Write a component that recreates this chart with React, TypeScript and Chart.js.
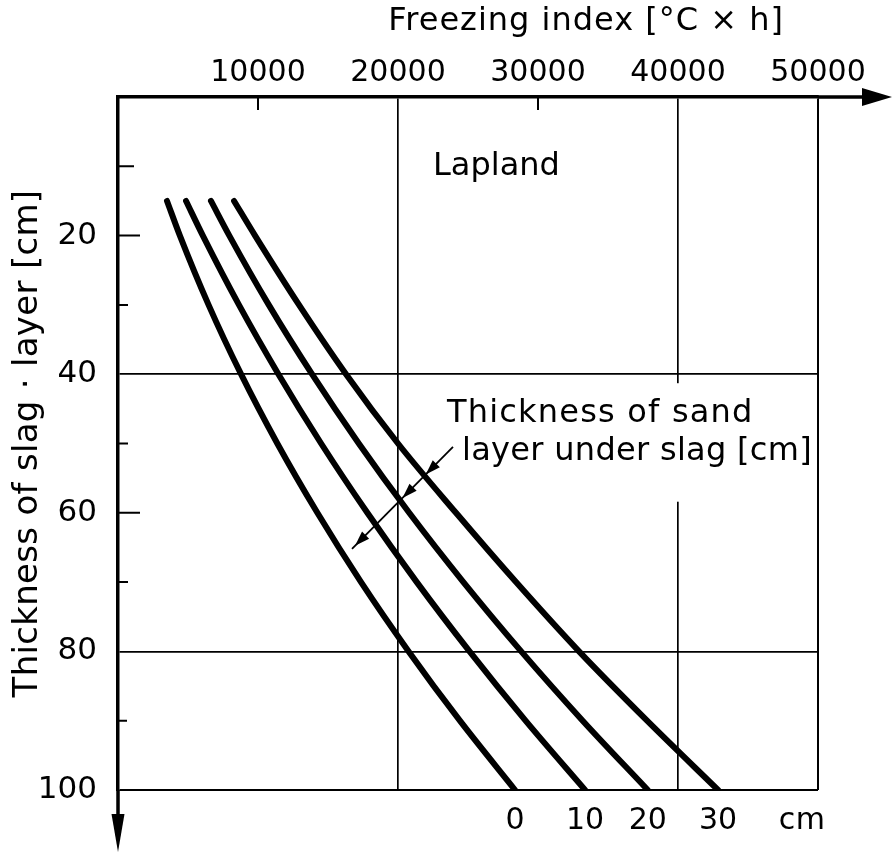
import React, { useEffect, useRef } from 'react';
import { Chart, registerables } from 'chart.js';

Chart.register(...registerables);

// ---------- data ----------
// thickness of slag layer [cm] (vertical axis, downwards)
const SLAG_THICKNESS = [15, 20, 30, 40, 50, 60, 70, 80, 90, 100];
// freezing index [°C×h] for each thickness of sand layer under slag
const FI_SAND_0 = [3500, 4420, 6470, 8790, 11380, 14240, 17360, 20760, 24420, 28360];
const FI_SAND_10 = [4860, 6060, 8640, 11460, 14510, 17810, 21340, 25110, 29110, 33360];
const FI_SAND_20 = [6640, 7950, 10770, 13860, 17200, 20800, 24670, 28800, 33190, 37840];
const FI_SAND_30 = [8290, 9790, 12930, 16290, 20000, 24140, 28430, 32930, 37790, 42860];
const SAND_LABELS = ['0', '10', '20', '30'];
const SAND_SERIES = [FI_SAND_0, FI_SAND_10, FI_SAND_20, FI_SAND_30];

const X_TICK_LABELS = [10000, 20000, 30000, 40000, 50000];
const X_GRID = [20000, 40000, 50000];
const X_INNER_TICKS = [10000, 30000];
const Y_TICK_LABELS = [20, 40, 60, 80, 100];
const Y_GRID = [40, 80, 100];
const Y_INNER_TICKS: Record<number, number> = { 10: 16, 20: 22, 30: 10, 50: 10, 60: 22, 70: 10, 90: 9 };

const X_TITLE = 'Freezing index [°C × h]';
const Y_TITLE = 'Thickness of slag · layer [cm]';
const REGION_LABEL = 'Lapland';
const SAND_NOTE = ['Thickness of sand', 'layer under slag [cm]'];
const UNIT_LABEL = 'cm';

const FONT = '"DejaVu Sans", "Noto Sans", sans-serif';

export default function App() {
  const ref = useRef<HTMLCanvasElement>(null);

  useEffect(() => {
    const canvas = ref.current;
    if (!canvas) return;

    const drawText = (
      ctx: CanvasRenderingContext2D,
      str: string,
      x: number,
      y: number,
      size: number,
      spacing: number,
      align: CanvasTextAlign = 'left',
      baseline: CanvasTextBaseline = 'alphabetic',
      rot = 0
    ) => {
      ctx.save();
      ctx.translate(x, y);
      if (rot) ctx.rotate(rot);
      ctx.font = `${size}px ${FONT}`;
      (ctx as any).letterSpacing = `${spacing}px`;
      ctx.textAlign = align;
      ctx.textBaseline = baseline;
      ctx.fillStyle = '#000';
      ctx.fillText(str, 0, 0);
      ctx.restore();
    };

    const arrowHead = (
      ctx: CanvasRenderingContext2D,
      tx: number,
      ty: number,
      ang: number,
      len: number,
      half: number
    ) => {
      const c = Math.cos(ang);
      const s = Math.sin(ang);
      ctx.beginPath();
      ctx.moveTo(tx, ty);
      ctx.lineTo(tx - len * c + half * s, ty - len * s - half * c);
      ctx.lineTo(tx - len * c - half * s, ty - len * s + half * c);
      ctx.closePath();
      ctx.fill();
    };

    const figurePlugin = {
      id: 'figure',
      beforeDatasetsDraw(chart: any) {
        const { ctx, chartArea: a } = chart;
        const x = chart.scales.x;
        const y = chart.scales.y;
        ctx.save();
        // interruption of the 40000 grid line behind the note text
        const gx = x.getPixelForValue(40000);
        const g1 = y.getPixelForValue(41.3);
        const g2 = y.getPixelForValue(58.4);
        ctx.fillStyle = '#fff';
        ctx.fillRect(gx - 3, g1, 6, g2 - g1);
        // inner tick marks
        ctx.strokeStyle = '#000';
        ctx.lineWidth = 2;
        ctx.beginPath();
        for (const v of X_INNER_TICKS) {
          const px = x.getPixelForValue(v);
          ctx.moveTo(px, a.top);
          ctx.lineTo(px, a.top + 13);
        }
        for (const k of Object.keys(Y_INNER_TICKS)) {
          const v = Number(k);
          const py = y.getPixelForValue(v);
          ctx.moveTo(a.left, py);
          ctx.lineTo(a.left + Y_INNER_TICKS[v], py);
        }
        ctx.stroke();
        ctx.restore();
      },
      afterDraw(chart: any) {
        const { ctx, chartArea: a } = chart;
        const x = chart.scales.x;
        const y = chart.scales.y;
        ctx.save();
        ctx.strokeStyle = '#000';
        ctx.fillStyle = '#000';
        // axis extensions with arrows
        ctx.lineWidth = 3.5;
        ctx.beginPath();
        ctx.moveTo(a.right, a.top);
        ctx.lineTo(a.right + 60, a.top);
        ctx.moveTo(a.left, a.bottom);
        ctx.lineTo(a.left, a.bottom + 40);
        ctx.stroke();
        arrowHead(ctx, a.right + 74, a.top, 0, 30, 9);
        arrowHead(ctx, a.left, a.bottom + 62, Math.PI / 2, 38, 6.5);

        // axis titles
        drawText(ctx, X_TITLE, x.getPixelForValue(19300), 30, 32, 1.0, 'left', 'alphabetic');
        drawText(ctx, Y_TITLE, 28, (a.top + a.bottom) / 2, 34, 0.3, 'center', 'middle', -Math.PI / 2);

        // annotations
        drawText(ctx, REGION_LABEL, x.getPixelForValue(22500), y.getPixelForValue(11.3), 32, 0, 'left');
        drawText(ctx, SAND_NOTE[0], x.getPixelForValue(23500), y.getPixelForValue(46.9), 32, 1.2, 'left');
        drawText(ctx, SAND_NOTE[1], x.getPixelForValue(24570), y.getPixelForValue(52.4), 32, 0.3, 'left');

        // pointer line with arrow heads
        const p0x = x.getPixelForValue(23929);
        const p0y = y.getPixelForValue(50.5);
        const p1x = x.getPixelForValue(16714);
        const p1y = y.getPixelForValue(65.2);
        ctx.lineWidth = 1.8;
        ctx.beginPath();
        ctx.moveTo(p0x, p0y);
        ctx.lineTo(p1x, p1y);
        ctx.stroke();
        const ang = Math.atan2(p1y - p0y, p1x - p0x);
        for (const t of [0.27, 0.5, 0.97]) {
          arrowHead(ctx, p0x + (p1x - p0x) * t, p0y + (p1y - p0y) * t, ang, 15, 5);
        }

        // curve labels under the chart
        SAND_SERIES.forEach((s, i) => {
          drawText(ctx, SAND_LABELS[i], x.getPixelForValue(s[s.length - 1]), y.getPixelForValue(105.6), 30, 0, 'center');
        });
        drawText(ctx, UNIT_LABEL, x.getPixelForValue(48860), y.getPixelForValue(105.6), 30, 0.5, 'center');
        ctx.restore();
      },
    };

    const datasets = SAND_SERIES.map((s, i) => ({
      label: SAND_LABELS[i] + ' cm',
      data: s.map((v, j) => ({ x: v, y: SLAG_THICKNESS[j] })),
      borderColor: '#000',
      borderWidth: 6,
      borderCapStyle: 'round' as const,
      borderJoinStyle: 'round' as const,
      pointRadius: 0,
      cubicInterpolationMode: 'monotone' as const,
      fill: false,
    }));

    const chart = new Chart(canvas, {
      type: 'line',
      data: { datasets },
      options: {
        animation: false,
        responsive: false,
        maintainAspectRatio: false,
        layout: { padding: { top: 0, left: 0, right: 74, bottom: 65 } },
        plugins: { legend: { display: false }, tooltip: { enabled: false }, title: { display: false } },
        scales: {
          x: {
            type: 'linear',
            position: 'top',
            min: 0,
            max: 50000,
            afterFit: (s: any) => {
              s.height = 97;
            },
            ticks: {
              stepSize: 10000,
              autoSkip: false,
              maxRotation: 0,
              padding: 6,
              color: '#000',
              font: { family: FONT, size: 30 },
              callback: (v: any) => (X_TICK_LABELS.includes(Number(v)) ? String(v) : ''),
            },
            grid: {
              drawTicks: false,
              color: (c: any) => (X_GRID.includes(c.tick?.value) ? '#000' : 'rgba(0,0,0,0)'),
              lineWidth: (c: any) => (c.tick?.value === 50000 ? 2 : 1.7),
            },
            border: { display: true, color: '#000', width: 3.5 },
          },
          y: {
            type: 'linear',
            reverse: true,
            min: 0,
            max: 100,
            afterFit: (s: any) => {
              s.width = 118;
            },
            ticks: {
              stepSize: 10,
              autoSkip: false,
              padding: 21,
              color: '#000',
              font: { family: FONT, size: 31 },
              callback: (v: any) => (Y_TICK_LABELS.includes(Number(v)) ? String(v) : ''),
            },
            grid: {
              drawTicks: false,
              color: (c: any) => (Y_GRID.includes(c.tick?.value) ? '#000' : 'rgba(0,0,0,0)'),
              lineWidth: (c: any) => (c.tick?.value === 100 ? 2 : 1.7),
            },
            border: { display: true, color: '#000', width: 3.5 },
          },
        },
      },
      plugins: [figurePlugin],
    });

    return () => chart.destroy();
  }, []);

  return (
    <div style={{ position: 'fixed', left: 0, top: 0, width: 892, height: 855, background: '#fff' }}>
      <canvas ref={ref} width={892} height={855} style={{ display: 'block', width: 892, height: 855 }} />
    </div>
  );
}
